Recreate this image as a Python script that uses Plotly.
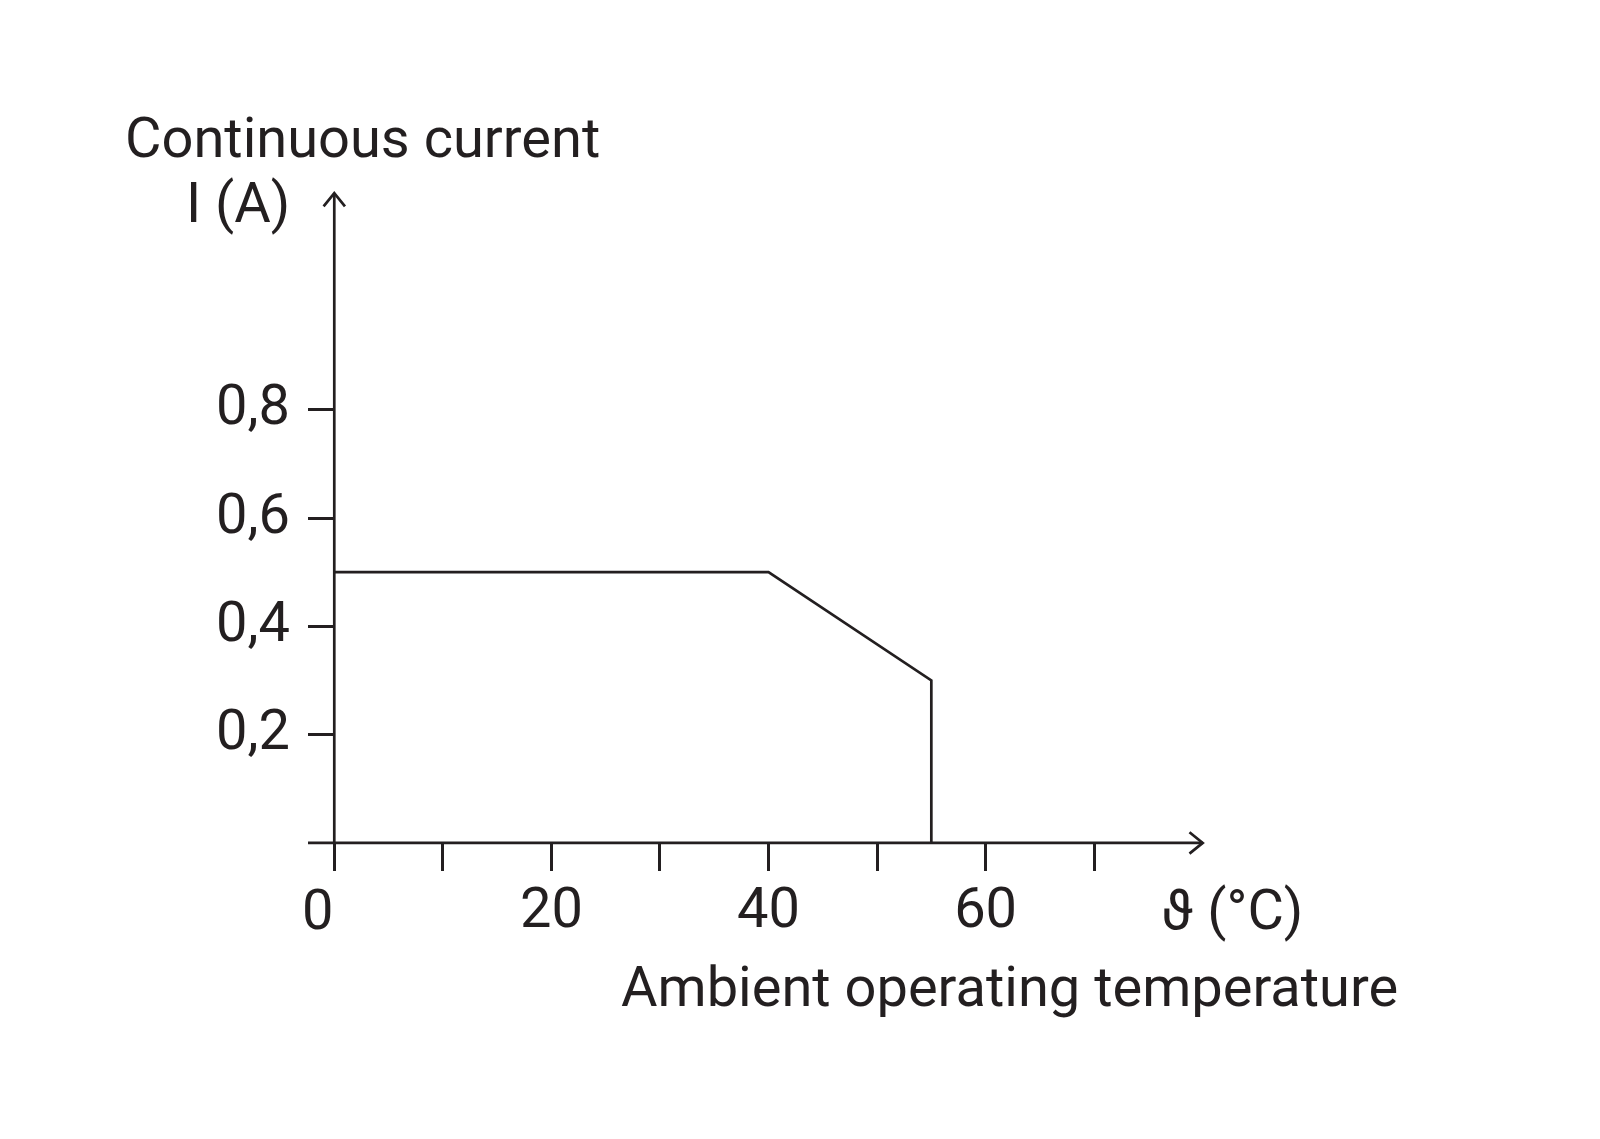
import plotly.graph_objects as go

# Derating curve: continuous current vs ambient temperature
temp = [0, 40, 55, 55]
current = [0.5, 0.5, 0.3, 0]

x_ticks = [0, 10, 20, 30, 40, 50, 60, 70]
x_ticktext = ["", "", "20", "", "40", "", "60", ""]
y_ticks = [0.2, 0.4, 0.6, 0.8]
y_ticktext = ["0,2", "0,4", "0,6", "0,8"]

ink = "#231f20"
font = "Roboto"
fsize = 56
lw = 2.7

x_range = [-5, 85]
y_range = [-0.05, 1.25]

# plot area in px (page has an 8px body margin on top of this)
L, T, W, H = 271.7, 157.8, 977.4, 704.0
PAGE = 8


def px(x):
    return (x - PAGE - L) / W


def py(y):
    return (T + H - (y - PAGE)) / H


fig = go.Figure()
fig.add_trace(go.Scatter(
    x=temp, y=current, mode="lines",
    line=dict(color=ink, width=lw),
    showlegend=False, hoverinfo="skip"
))

# axis lines with open arrowheads
line = dict(color=ink, width=lw)
fig.add_shape(type="line", x0=-2.42, y0=0, x1=80, y1=0, xref="x", yref="y", line=line)
fig.add_shape(type="line", x0=0, y0=0, x1=0, y1=1.2, xref="x", yref="y", line=line)
fig.add_shape(type="path", xref="x", yref="y", line=line,
              path="M 78.78,0.0198 L 80,0 L 78.78,-0.0198")
fig.add_shape(type="path", xref="x", yref="y", line=line,
              path="M -0.985,1.1754 L 0,1.2 L 0.985,1.1754")

labels = [
    ("Continuous current", 123, 137.5, "left"),
    ("I (A)", 292, 203, "right"),
    ("0", 317, 910, "center"),
    ("ϑ (°C)", 1232, 910, "center"),
    ("Ambient operating temperature", 1009, 987, "center"),
]
for text, x, y, anchor in labels:
    fig.add_annotation(text=text, x=px(x), y=py(y), xref="paper", yref="paper",
                       xanchor=anchor, yanchor="middle", showarrow=False,
                       font=dict(family=font, size=fsize, color=ink))

fig.update_layout(
    width=1600, height=1139,
    margin=dict(l=L, r=1600 - L - W, t=T, b=1139 - T - H),
    paper_bgcolor="white", plot_bgcolor="white",
    xaxis=dict(
        range=x_range, anchor="free", position=0.05 / 1.3,
        showgrid=False, zeroline=False, showline=False,
        tickmode="array", tickvals=x_ticks, ticktext=x_ticktext,
        ticks="outside", ticklen=27, tickwidth=lw, tickcolor=ink,
        ticklabelstandoff=-11,
        tickfont=dict(family=font, size=fsize, color=ink),
    ),
    yaxis=dict(
        range=y_range, anchor="free", position=5 / 90,
        showgrid=False, zeroline=False, showline=False,
        tickmode="array", tickvals=y_ticks, ticktext=y_ticktext,
        ticks="outside", ticklen=26, tickwidth=lw, tickcolor=ink,
        ticklabelstandoff=7, ticklabelshift=-5,
        tickfont=dict(family=font, size=fsize, color=ink),
    ),
)

fig.write_html("out.html")
